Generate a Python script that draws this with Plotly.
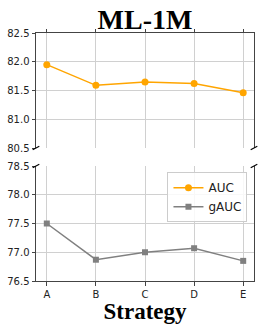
import plotly.graph_objects as go

strategies = ["A", "B", "C", "D", "E"]
auc = [81.95, 81.59, 81.65, 81.62, 81.46]
gauc = [77.50, 76.87, 77.00, 77.07, 76.85]
upper_ticks = [80.5, 81.0, 81.5, 82.0, 82.5]
lower_ticks = [76.5, 77.0, 77.5, 78.0, 78.5]

W, H = 266, 332
ML, MR, MT, MB = 36, 12, 33, 51
pw, ph = W - ML - MR, H - MT - MB
up_lo = (H - MB - 148) / ph
lo_hi = (H - MB - 166) / ph

spine = "#444444"
grid = "#d0d0d0"
tickfont = dict(family="DejaVu Sans", size=10, color="#222222")

fig = go.Figure()
fig.add_trace(go.Scatter(x=strategies, y=auc, name="AUC", xaxis="x2", yaxis="y2",
                         mode="lines+markers", line=dict(color="#FFA500", width=1.5),
                         marker=dict(symbol="circle", size=7, color="#FFA500")))
fig.add_trace(go.Scatter(x=strategies, y=gauc, name="gAUC", xaxis="x", yaxis="y",
                         mode="lines+markers", line=dict(color="#808080", width=1.5),
                         marker=dict(symbol="square", size=6, color="#808080")))

xr = [-0.22, 4.22]
common_x = dict(range=xr, showgrid=True, gridcolor=grid, gridwidth=1, showline=True,
                linecolor=spine, linewidth=1, ticks="outside", ticklen=3.5, tickcolor=spine,
                tickfont=tickfont, zeroline=False, fixedrange=True, automargin=False)
common_y = dict(showgrid=True, gridcolor=grid, showline=True, mirror=True, linecolor=spine,
                linewidth=1, ticks="outside", ticklen=3.5, tickcolor=spine,
                tickfont=tickfont, zeroline=False, fixedrange=True, automargin=False)
fig.update_layout(
    width=W, height=H, margin=dict(l=ML, r=MR, t=MT, b=MB, autoexpand=False),
    paper_bgcolor="white", plot_bgcolor="white", showlegend=True,
    title=dict(text="<b>ML-1M</b>", x=(ML + pw / 2) / W, xanchor="center",
               y=1 - 19 / H, yanchor="middle", automargin=False,
               font=dict(family="Liberation Serif", size=28, color="black")),
    xaxis=dict(common_x, anchor="y", domain=[0, 1],
               title=dict(text="<b>Strategy</b>", standoff=0,
                          font=dict(family="Liberation Serif", size=23, color="black"))),
    xaxis2=dict(common_x, anchor="y2", side="top", showticklabels=False, matches="x"),
    yaxis=dict(common_y, domain=[0, lo_hi], range=[76.5, 78.5], tickvals=lower_ticks,
               ticktext=[f"{v:.1f}" for v in lower_ticks]),
    yaxis2=dict(common_y, domain=[up_lo, 1], range=[80.5, 82.5], tickvals=upper_ticks,
                ticktext=[f"{v:.1f}" for v in upper_ticks], anchor="x2"),
    legend=dict(x=0.97, y=lo_hi - 0.025, xanchor="right", yanchor="top",
                bgcolor="rgba(255,255,255,0.85)", bordercolor="#cccccc", borderwidth=1,
                font=dict(family="DejaVu Sans", size=12, color="#222222"),
                itemwidth=30, tracegroupgap=0),
)

# broken-axis diagonal marks
dx, dy = 3.3 / pw, 1.7 / ph
for yb in (up_lo, lo_hi):
    for xb in (0, 1):
        fig.add_shape(type="line", xref="paper", yref="paper",
                      x0=xb - dx, y0=yb - dy, x1=xb + dx, y1=yb + dy,
                      line=dict(color="black", width=1.2))

fig.write_html("out.html", config={"displayModeBar": False},
               post_script="document.body.style.margin='0';")
